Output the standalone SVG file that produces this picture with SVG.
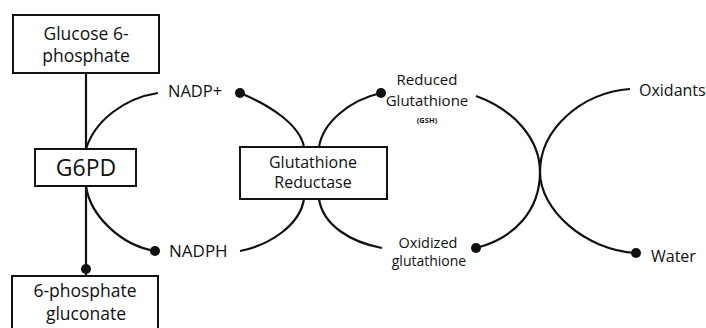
<svg xmlns="http://www.w3.org/2000/svg" width="706" height="328" viewBox="0 0 706 328">
<style>
.box{fill:#fff;stroke:#111;stroke-width:2}
.ln{fill:none;stroke:#111;stroke-width:2.2}
.dot{fill:#111}
text{font-family:"Open Sans","Liberation Sans",sans-serif;fill:#111}
.c{text-anchor:middle}
</style>
<rect width="706" height="328" fill="#fff"/>
<g id="connectors">
<line class="ln" x1="86" y1="73" x2="86" y2="149"/>
<line class="ln" x1="86" y1="186" x2="86" y2="276"/>
<circle class="dot" cx="86" cy="269" r="5"/>
<path class="ln" d="M86,149 C95,120 125,98 158,93"/>
<path class="ln" d="M86,186 C90,215 120,245 155,251"/>
<circle class="dot" cx="155" cy="251" r="5"/>
<path class="ln" d="M240,93 C270,105 300,125 304,147"/>
<circle class="dot" cx="240" cy="93" r="5"/>
<path class="ln" d="M319,147 C323,122 350,100 381,93"/>
<circle class="dot" cx="381" cy="93" r="5"/>
<path class="ln" d="M240,251 C270,245 300,225 304,199"/>
<path class="ln" d="M319,199 C323,225 350,242 382,248"/>
<path class="ln" d="M476,96 C515,110 540,140 540,172 C540,210 585,250 636,253"/>
<circle class="dot" cx="636" cy="253" r="5"/>
<path class="ln" d="M630,89 C580,93 540,130 540,172 C540,210 515,238 476,248"/>
<circle class="dot" cx="476" cy="248" r="5"/>
</g>
<g id="glucose6p">
<rect class="box" x="13" y="15" width="146" height="58"/>
<text class="c" x="86" y="40" font-size="17.5">Glucose 6-</text>
<text class="c" x="86" y="62" font-size="17.5">phosphate</text>
</g>
<g id="g6pd">
<rect class="box" x="35" y="149" width="101" height="37"/>
<text class="c" x="86" y="176" font-size="23">G6PD</text>
</g>
<g id="phosphogluconate">
<rect class="box" x="12" y="276" width="146" height="60"/>
<text class="c" x="85" y="297" font-size="17.5">6-phosphate</text>
<text class="c" x="86" y="320" font-size="17.5">gluconate</text>
</g>
<g id="gr">
<rect class="box" x="240" y="147" width="147" height="52"/>
<text class="c" x="313" y="168" font-size="16">Glutathione</text>
<text class="c" x="313" y="188" font-size="16">Reductase</text>
</g>
<g id="nadp">
<text x="168" y="97" font-size="16.5">NADP+</text>
</g>
<g id="nadph">
<text x="169" y="257" font-size="17">NADPH</text>
</g>
<g id="gsh">
<text class="c" x="427" y="85" font-size="15">Reduced</text>
<text class="c" x="427" y="106" font-size="15">Glutathione</text>
<text class="c" x="427" y="123" font-size="7.5" font-weight="bold">(GSH)</text>
</g>
<g id="gssg">
<text class="c" x="428" y="248" font-size="14.5">Oxidized</text>
<text class="c" x="429" y="266" font-size="14">glutathione</text>
</g>
<g id="oxidants">
<text x="639" y="96" font-size="16">Oxidants</text>
</g>
<g id="water">
<text x="651" y="262" font-size="16">Water</text>
</g>
</svg>
